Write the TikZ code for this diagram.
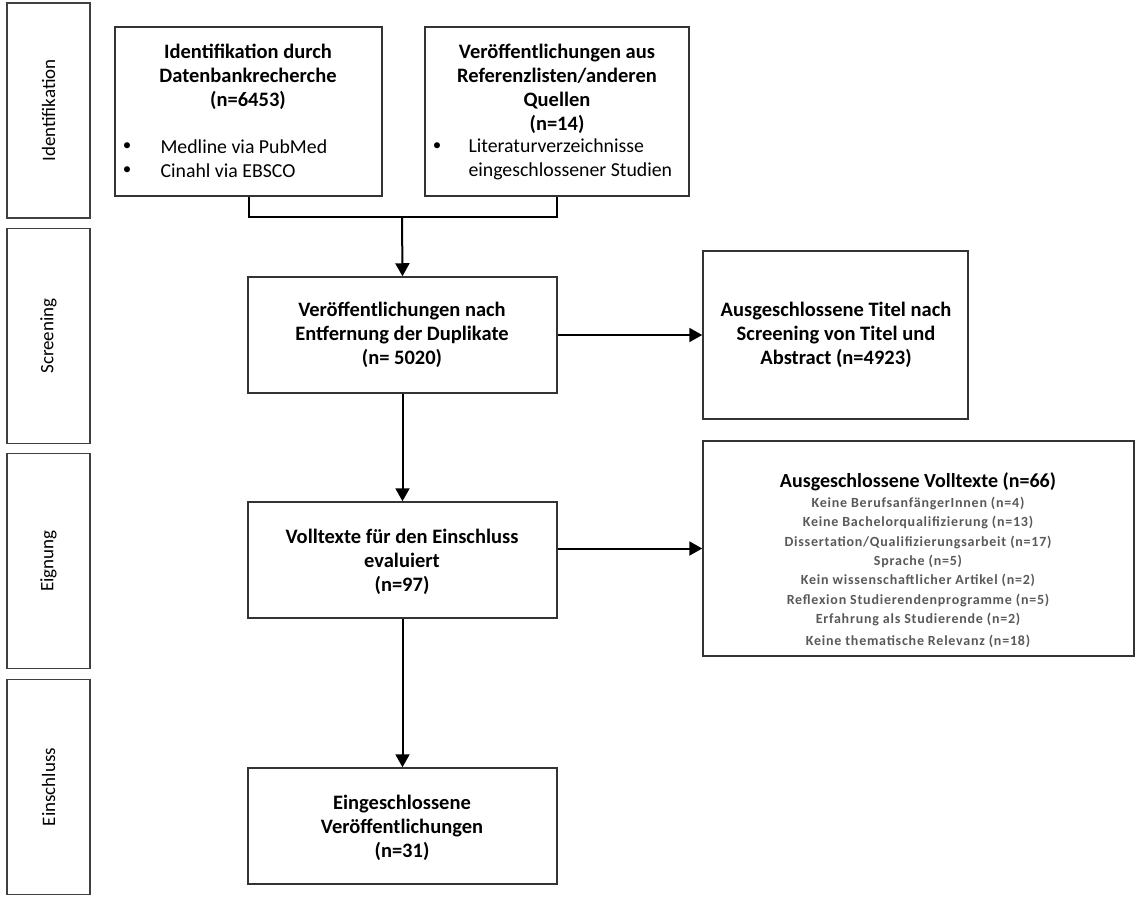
\documentclass[tikz,border=0pt]{standalone}
\usepackage{fontspec}
\setmainfont{Carlito}
\newfontfamily\spacedfont[LetterSpace=5.5]{Carlito}
\usetikzlibrary{arrows.meta}
\definecolor{listgray}{RGB}{89,89,89}
\begin{document}
\begin{tikzpicture}[x=1pt,y=-1pt,
  box/.style={draw=black!80, line width=1.5pt, inner sep=0pt},
  sidebox/.style={draw=black!75, line width=1.3pt, inner sep=0pt, minimum width=83pt, minimum height=215pt},
  sidelabel/.style={rotate=90, font=\fontsize{19}{22}\selectfont},
  title/.style={align=center, font=\bfseries\fontsize{20.5}{24.2}\selectfont},
  item/.style={anchor=west, font=\fontsize{19.8}{24}\selectfont},
  bul/.style={font=\fontsize{17}{24}\selectfont},
  small/.style={font=\spacedfont\bfseries\fontsize{14}{16}\selectfont, text=listgray},
  conn/.style={line width=2pt},
  arr/.style={line width=2pt, -{Triangle[length=13pt,width=14pt]}}
]
\useasboundingbox (0,0) rectangle (1142,905);

% side phase boxes
\node[sidebox] (s1) at (48.5,110.5) {};
\node[sidebox] (s2) at (48.5,336) {};
\node[sidebox] (s3) at (48.5,561) {};
\node[sidebox] (s4) at (48.5,787) {};
\node[sidelabel] (l1) at (s1.center) {Identifikation};
\node[sidelabel] (l2) at (s2.center) {Screening};
\node[sidelabel] (l3) at (s3.center) {Eignung};
\node[sidelabel] (l4) at (s4.center) {Einschluss};

% main boxes
\node[box, minimum width=267pt, minimum height=169pt] (A) at (248.5,111.5) {};
\node[box, minimum width=264pt, minimum height=169pt] (B) at (557,111.5) {};
\node[box, minimum width=309pt, minimum height=116pt] (C) at (402.5,335) {};
\node[box, minimum width=265pt, minimum height=168pt] (D) at (835.5,335) {};
\node[box, minimum width=309pt, minimum height=116pt] (E) at (402.5,560) {};
\node[box, minimum width=431pt, minimum height=215pt] (F) at (918.5,548.5) {};
\node[box, minimum width=309pt, minimum height=116pt] (G) at (402.5,826) {};

% texts in A
\node[title] (tA) at (248,77) {Identifikation durch\\Datenbankrecherche\\(n=6453)};
\node[bul] (bA1) at (127,147) {•};
\node[item] (iA1) at (157,147) {Medline via PubMed};
\node[bul] (bA2) at (127,171) {•};
\node[item] (iA2) at (157,171) {Cinahl via EBSCO};

% texts in B
\node[title] (tB) at (557,89) {Veröffentlichungen aus\\Referenzlisten/anderen\\Quellen\\(n=14)};
\node[bul] (bB1) at (437,147) {•};
\node[item, align=left] (iB1) at (465,159) {Literaturverzeichnisse\\eingeschlossener Studien};

% texts in C, D, E, G
\node[title] (tC) at (402,335) {Veröffentlichungen nach\\Entfernung der Duplikate\\(n= 5020)};
\node[title] (tD) at (836,335) {Ausgeschlossene Titel nach\\Screening von Titel und\\Abstract (n=4923)};
\node[title] (tE) at (402,562) {Volltexte für den Einschluss\\evaluiert\\(n=97)};
\node[title] (tG) at (402,828) {Eingeschlossene\\Veröffentlichungen\\(n=31)};

% texts in F
\node[font=\bfseries\fontsize{20}{22}\selectfont] (tF) at (918,482) {Ausgeschlossene Volltexte (n=66)};
\node[small] (f1) at (918,503) {Keine BerufsanfängerInnen (n=4)};
\node[small] (f2) at (918,522.5) {Keine Bachelorqualifizierung (n=13)};
\node[small] (f3) at (918,542) {Dissertation/Qualifizierungsarbeit (n=17)};
\node[small] (f4) at (918,561) {Sprache (n=5)};
\node[small] (f5) at (918,580.5) {Kein wissenschaftlicher Artikel (n=2)};
\node[small] (f6) at (918,600) {Reflexion Studierendenprogramme (n=5)};
\node[small] (f7) at (918,619) {Erfahrung als Studierende (n=2)};
\node[small] (f8) at (918,641) {Keine thematische Relevanz (n=18)};

% connectors
\coordinate (j) at (402,217);
\draw[conn] (A.south) |- (j) -| (B.south);
\draw[arr] (j) -- (C.north);
\draw[arr] (C.east) -- (D.west);
\draw[arr] (C.south) -- (E.north);
\draw[arr] (F.west -| E.east) -- (F.west);
\draw[arr] (E.south) -- (G.north);
\end{tikzpicture}
\end{document}
